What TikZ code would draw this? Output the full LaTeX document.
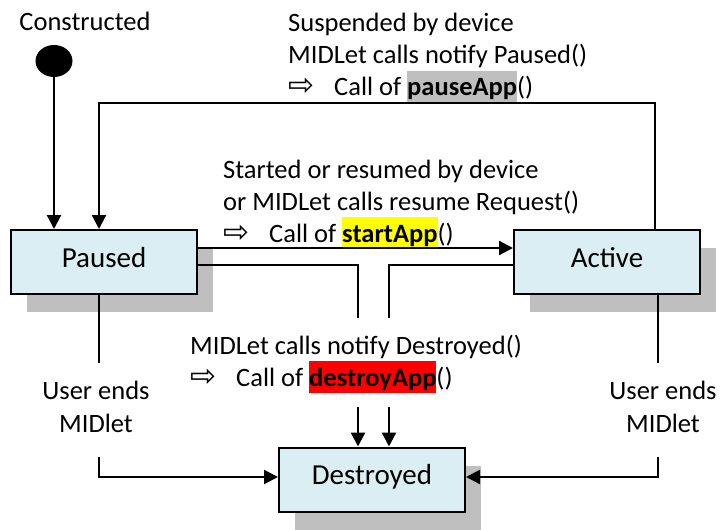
\documentclass[tikz,border=0pt]{standalone}
\usepackage{fontspec}
\setmainfont{Carlito}
\newfontfamily\arrowfont{DejaVu Sans}
\usetikzlibrary{arrows.meta,shadows,shapes.geometric}

\definecolor{boxfill}{HTML}{DAEEF3}
\definecolor{shadowgray}{HTML}{BFBFBF}
\definecolor{markgray}{HTML}{BFBFBF}
\definecolor{markyellow}{HTML}{FFFF00}
\definecolor{markred}{HTML}{FF0000}

% keep a fixed baseline distance even with tall markers
\setlength{\lineskiplimit}{-20pt}

% highlighted method name, marker spans the full line height
\newcommand\hlword[2]{{\setlength{\fboxsep}{0pt}\colorbox{#1}{\rule[-7pt]{0pt}{32pt}\textbf{#2}}}}
% "=> Call of xxx()" line
\newcommand\callline[2]{\makebox[46pt][l]{\arrowfont\fontsize{31}{31}\selectfont ⇨}Call of \hlword{#1}{#2}()}

\begin{document}
\begin{tikzpicture}[x=1pt,y=-1pt,
  lbl/.style={inner sep=0pt,font=\fontsize{26.5}{32}\selectfont},
  state/.style={draw,line width=2pt,fill=boxfill,minimum width=186pt,minimum height=64pt,
    text height=20pt,text depth=10pt,inner sep=0pt,font=\fontsize{29}{34}\selectfont,
    drop shadow={shadow xshift=16pt,shadow yshift=-18pt,fill=shadowgray,opacity=1}},
  wire/.style={line width=2.2pt},
  arr/.style={wire,-{Triangle[length=14pt,width=14pt]}},
  initial/.style={fill=black,ellipse,minimum width=37pt,minimum height=32pt,inner sep=0pt}]
\useasboundingbox (0,0) rectangle (721,530);

% states
\node[state] (paused) at (104,262) {Paused};
\node[state] (active) at (607,262) {Active};
\node[state] (destroyed) at (372,479.5) {Destroyed};

% initial pseudo state
\node[initial] (init) at (54,61) {};
\node[lbl,anchor=base] (constructed) at (85,30.5) {Constructed};

% labels (anchored on the baseline of their last line)
\node[lbl,anchor=base west,align=left] (suspend) at (288,95.5)
  {Suspended by device\\MIDLet calls notify Paused()\\\callline{markgray}{pauseApp}};
\node[lbl,anchor=base west,align=left] (start) at (223,242)
  {Started or resumed by device\\or MIDLet calls resume Request()\\\callline{markyellow}{startApp}};
\node[lbl,anchor=base west,align=left] (destroy) at (190,386)
  {MIDLet calls notify Destroyed()\\\callline{markred}{destroyApp}};
\node[lbl,anchor=base,align=center,font=\fontsize{26.5}{33}\selectfont] (userL) at (96,432) {User ends\\MIDlet};
\node[lbl,anchor=base,align=center,font=\fontsize{26.5}{33}\selectfont] (userR) at (663,432) {User ends\\MIDlet};

% routing points
\coordinate (topR) at (655,103);
\coordinate (topL) at (99,103);
\coordinate (startY) at (0,248);
\coordinate (destY) at (0,265);
\coordinate (dLup) at (358,318);
\coordinate (dLdn) at (358,407);
\coordinate (dRup) at (389,318);
\coordinate (dRdn) at (389,407);
\coordinate (uLup) at (99,363);
\coordinate (uLdn) at (99,457);
\coordinate (uRup) at (658,363);
\coordinate (uRdn) at (658,457);
\coordinate (userY) at (0,477);

% connectors
\draw[arr] (init.center) -- (init.center |- paused.north);
\draw[arr] (active.north -| topR) -- (topR) -- (topL) -- (paused.north -| topL);
\draw[arr] (paused.east |- startY) -- (active.west |- startY);
\draw[wire] (paused.east |- destY) -| (dLup);
\draw[arr] (dLdn) -- (destroyed.north -| dLdn);
\draw[wire] (active.west |- destY) -| (dRup);
\draw[arr] (dRdn) -- (destroyed.north -| dRdn);
\draw[wire] (paused.south -| uLup) -- (uLup);
\draw[arr] (uLdn) |- (destroyed.west |- userY);
\draw[wire] (active.south -| uRup) -- (uRup);
\draw[arr] (uRdn) |- (destroyed.east |- userY);
\end{tikzpicture}
\end{document}
